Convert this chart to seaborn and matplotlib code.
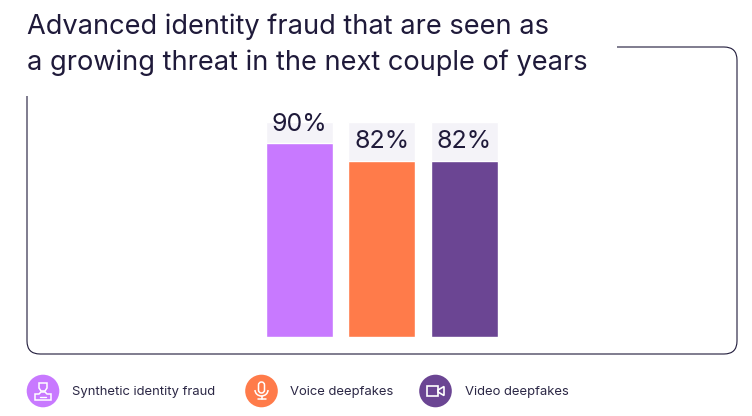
import matplotlib
matplotlib.use("Agg")
import matplotlib.pyplot as plt
import seaborn as sns
import pandas as pd
from matplotlib.patches import Circle, PathPatch, Rectangle, Polygon, Arc, FancyBboxPatch
from matplotlib.path import Path

categories = ["Synthetic identity fraud", "Voice deepfakes", "Video deepfakes"]
values = [90, 82, 82]
value_labels = ["90%", "82%", "82%"]
full_scale = [100, 100, 100]
colors = ["#c879ff", "#ff7b4a", "#6b4593"]
title_lines = ["Advanced identity fraud that are seen as",
               "a growing threat in the next couple of years"]

INK = "#1f1a3a"
W, H = 752, 416

sns.set_theme(style="white")
plt.rcParams["font.family"] = ["Inter", "DejaVu Sans"]

df = pd.DataFrame({"category": categories, "value": values, "full": full_scale})

fig = plt.figure(figsize=(W / 100, H / 100), dpi=100, facecolor="white")

# overlay in pixel coords for the frame, title and legend
bg = fig.add_axes([0, 0, 1, 1])
bg.set_xlim(0, W)
bg.set_ylim(H, 0)
bg.axis("off")

# rounded frame, left open behind the title
r = 13
frame = Path(
    [(617, 47), (737 - r, 47), (737, 47), (737, 47 + r), (737, 354 - r), (737, 354), (737 - r, 354),
     (27 + r, 354), (27, 354), (27, 354 - r), (27, 96)],
    [Path.MOVETO, Path.LINETO, Path.CURVE3, Path.CURVE3, Path.LINETO, Path.CURVE3, Path.CURVE3,
     Path.LINETO, Path.CURVE3, Path.CURVE3, Path.LINETO],
)
bg.add_patch(PathPatch(frame, fill=False, ec=INK, lw=0.8))

bg.text(27, 26.5, title_lines[0], fontsize=19.6, color=INK, va="center", ha="left")
bg.text(27, 62.5, title_lines[1], fontsize=19.6, color=INK, va="center", ha="left")

# bars
ax = fig.add_axes([216.7 / W, 1 - 336.5 / H, 330 / W, 214.5 / H])
ax.patch.set_alpha(0)
sns.barplot(data=df, x="category", y="full", color="#f4f3f8", width=0.815, saturation=1, ax=ax)
sns.barplot(data=df, x="category", y="value", hue="category", palette=colors, width=0.815,
            saturation=1, legend=False, dodge=False, ax=ax)
ax.set_xlim(-1, 3)
ax.set_ylim(0, 100)
ax.axis("off")
for i, (v, lab) in enumerate(zip(values, value_labels)):
    ax.annotate(lab, (i, v), xytext=(0, 5.5), textcoords="offset points", ha="center", va="bottom",
                fontsize=18, color=INK, annotation_clip=False)

# legend
icon_x = [43, 261.5, 435.5]
text_x = [72, 290, 465]
ly = 391
for cx, tx, c, name in zip(icon_x, text_x, colors, categories):
    bg.add_patch(Circle((cx, ly), 16.3, fc=c, ec="none"))
    bg.text(tx, ly + 0.5, name, fontsize=9.4, color="#2b2745", va="center", ha="left")

# person icon
cx = icon_x[0]
bg.add_patch(Polygon([(cx - 4, ly - 8), (cx + 4, ly - 8), (cx + 4, ly - 3), (cx + 2, ly), (cx - 2, ly), (cx - 4, ly - 3)],
                     closed=True, fill=False, ec="white", lw=1.1))
bg.add_patch(Polygon([(cx - 8, ly + 3), (cx - 4, ly + 3), (cx - 2, ly + 1), (cx + 2, ly + 1), (cx + 4, ly + 3), (cx + 8, ly + 3), (cx + 8, ly + 9), (cx - 8, ly + 9)],
                     closed=True, fill=False, ec="white", lw=1.1))
bg.plot([cx - 3, cx + 3], [ly + 6, ly + 6], color="white", lw=1.0)

# microphone icon
cx = icon_x[1]
bg.add_patch(FancyBboxPatch((cx - 1.5, ly - 7.5), 3, 8, boxstyle="round,pad=1.5,rounding_size=3",
                            fill=False, ec="white", lw=1.1))
bg.add_patch(Arc((cx, ly - 1), 13, 12, theta1=0, theta2=180, color="white", lw=1.1))
bg.plot([cx, cx], [ly + 5, ly + 8], color="white", lw=1.1)
bg.plot([cx - 4, cx + 4], [ly + 8, ly + 8], color="white", lw=1.1)

# camera icon
cx = icon_x[2]
bg.add_patch(Rectangle((cx - 8.5, ly - 5), 11, 10, fill=False, ec="white", lw=1.2))
bg.add_patch(Polygon([(cx + 2.5, ly - 1), (cx + 8.5, ly - 4.5), (cx + 8.5, ly + 4.5), (cx + 2.5, ly + 1)],
                     closed=True, fill=False, ec="white", lw=1.2))

fig.savefig("out.png", dpi=100)
